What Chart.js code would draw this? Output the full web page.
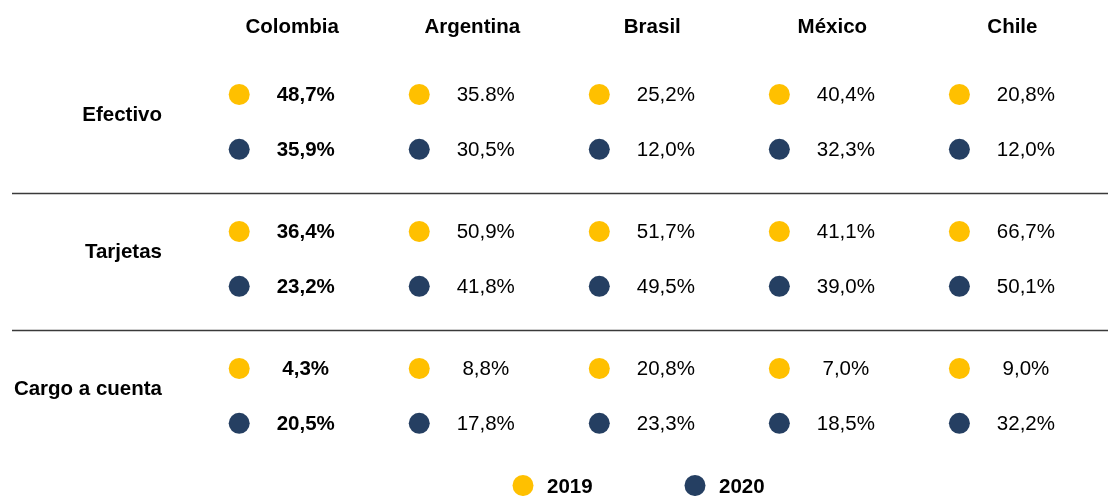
<!DOCTYPE html>
<html>
<head>
<meta charset="utf-8">
<script src="https://cdn.jsdelivr.net/npm/chart.js@4/dist/chart.umd.min.js"></script>
<style>
  html, body { margin: 0; padding: 0; background: #ffffff; }
  #wrap { width: 1108px; height: 496px; position: relative; }
</style>
</head>
<body>
<div id="wrap"><canvas id="c"></canvas></div>
<script>
// ---- data ----
const countries = ['Colombia', 'Argentina', 'Brasil', 'México', 'Chile'];
const methods = ['Efectivo', 'Tarjetas', 'Cargo a cuenta'];
const years = ['2019', '2020'];

const efectivo2019 = [48.7, 35.8, 25.2, 40.4, 20.8];
const efectivo2020 = [35.9, 30.5, 12.0, 32.3, 12.0];
const tarjetas2019 = [36.4, 50.9, 51.7, 41.1, 66.7];
const tarjetas2020 = [23.2, 41.8, 49.5, 39.0, 50.1];
const cargo2019 = [4.3, 8.8, 20.8, 7.0, 9.0];
const cargo2020 = [20.5, 17.8, 23.3, 18.5, 32.2];

// cells printed with a decimal point instead of a comma in the source
const pointDecimalCells = ['Efectivo|Argentina|2019'];

// ---- styles / layout ----
const YELLOW = '#FFC000';
const NAVY = '#253F62';
const FONT = "'Liberation Sans', Arial, Helvetica, sans-serif";
const FONT_SIZE = '20.5px ';
const YEAR_STEP = 0.4;         // vertical offset of the 2020 row inside a group
const HEADER_Y = -0.49;
const LABEL_Y = 0.15;
const SEP_Y = 0.72;
const LEGEND_Y = 2.854;

const byYear = {
  '2019': [efectivo2019, tarjetas2019, cargo2019],
  '2020': [efectivo2020, tarjetas2020, cargo2020]
};

function buildPoints(year, yi) {
  const pts = [];
  methods.forEach((m, mi) => {
    countries.forEach((c, ci) => {
      pts.push({ x: ci, y: mi + yi * YEAR_STEP, v: byYear[year][mi][ci], method: m, country: c });
    });
  });
  return pts;
}

function fmt(p, year) {
  const key = p.method + '|' + p.country + '|' + year;
  const s = p.v.toFixed(1);
  return (pointDecimalCells.includes(key) ? s : s.replace('.', ',')) + '%';
}

const tablePlugin = {
  id: 'tableText',
  afterDatasetsDraw(chart) {
    const ctx = chart.ctx;
    const xs = chart.scales.x, ys = chart.scales.y;
    ctx.save();
    ctx.fillStyle = '#000';
    ctx.textBaseline = 'middle';

    // headers
    ctx.font = 'bold ' + FONT_SIZE + FONT;
    ctx.textAlign = 'center';
    countries.forEach((c, ci) => {
      ctx.fillText(c, xs.getPixelForValue(ci) + 53, ys.getPixelForValue(HEADER_Y));
    });

    // row labels
    ctx.textAlign = 'right';
    methods.forEach((m, mi) => {
      ctx.fillText(m, 162, ys.getPixelForValue(mi + LABEL_Y));
    });

    // separators
    ctx.strokeStyle = '#3a3a3a';
    ctx.lineWidth = 1.5;
    for (let mi = 0; mi < methods.length - 1; mi++) {
      const y = Math.round(ys.getPixelForValue(mi + SEP_Y)) + 0.5;
      ctx.beginPath();
      ctx.moveTo(12, y);
      ctx.lineTo(chart.width, y);
      ctx.stroke();
    }

    // value labels
    ctx.textAlign = 'center';
    chart.data.datasets.forEach((ds, di) => {
      const meta = chart.getDatasetMeta(di);
      meta.data.forEach((el, i) => {
        const p = ds.data[i];
        ctx.font = (p.x === 0 ? 'bold ' : '') + FONT_SIZE + FONT;
        ctx.fillText(fmt(p, ds.label), el.x + 66.5, el.y + 1);
      });
    });

    // legend
    const ly = ys.getPixelForValue(LEGEND_Y);
    const legendX = [523, 695];
    ctx.font = 'bold ' + FONT_SIZE + FONT;
    ctx.textAlign = 'left';
    chart.data.datasets.forEach((ds, di) => {
      ctx.fillStyle = ds.backgroundColor;
      ctx.beginPath();
      ctx.arc(legendX[di], ly, 10.5, 0, Math.PI * 2);
      ctx.fill();
      ctx.fillStyle = '#000';
      ctx.fillText(ds.label, legendX[di] + 24, ly + 2);
    });
    ctx.restore();
  }
};

new Chart(document.getElementById('c'), {
  type: 'scatter',
  data: {
    datasets: years.map((yr, yi) => ({
      label: yr,
      data: buildPoints(yr, yi),
      backgroundColor: yi === 0 ? YELLOW : NAVY,
      borderWidth: 0,
      pointRadius: 10.5,
      pointHoverRadius: 10.5
    }))
  },
  options: {
    responsive: true,
    maintainAspectRatio: false,
    animation: false,
    layout: { padding: 0, autoPadding: false },
    plugins: { legend: { display: false }, tooltip: { enabled: false }, title: { display: false } },
    scales: {
      x: { type: 'linear', display: false, min: -1.3285, max: 4.8253 },
      y: { type: 'linear', display: false, reverse: true, min: -0.6898, max: 2.9306 }
    }
  },
  plugins: [tablePlugin]
});
</script>
</body>
</html>
